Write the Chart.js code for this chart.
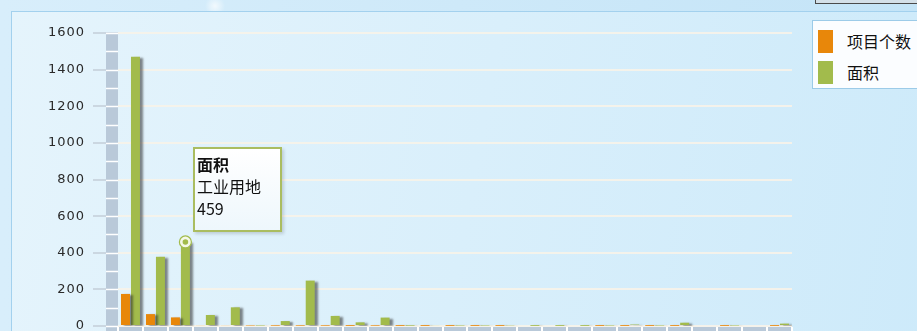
<!DOCTYPE html>
<html>
<head>
<meta charset="utf-8">
<script src="https://cdn.jsdelivr.net/npm/chart.js@4"></script>
<style>
  html, body { margin: 0; padding: 0; }
  body {
    width: 917px; height: 331px; overflow: hidden; position: relative;
    background:
      radial-gradient(circle at 215px 6px, rgba(255,255,255,0.7) 0, rgba(255,255,255,0) 10px),
      radial-gradient(circle at 226px 63px, rgba(255,255,255,0.5) 0, rgba(255,255,255,0) 6px),
      linear-gradient(to right, #d8eefb, #c4e4f7);
    font-family: "Noto Sans CJK SC", sans-serif;
  }
  .frame {
    position: absolute; left: 11px; top: 11px; width: 920px; height: 340px;
    border: 1px solid #a3d1ee;
    background: linear-gradient(100deg, #e5f4fc 0%, #d9effb 50%, #cdeafa 100%);
  }
  .topbox {
    position: absolute; left: 815px; top: -20px; width: 120px; height: 22px;
    border: 1px solid #4a4a4a; background: #d4e0e8;
  }
  #wrap { position: absolute; left: 0; top: 0; width: 917px; height: 331px; }
  .legend {
    position: absolute; left: 812px; top: 20px; width: 130px; height: 67px;
    background: #fbfdff; border: 1px solid #9ccbe8;
  }
  .legend .item { position: absolute; left: 5px; height: 23px; }
  .legend .sw { position: absolute; left: 0; top: 0; width: 15px; height: 23px; }
  .legend .tx { position: absolute; left: 29px; top: -1px; font-size: 16px; line-height: 24px; color: #111; white-space: nowrap; }
  .tip {
    position: absolute; width: 85px; height: 81px; padding: 0;
    border: 2px solid #aabd60;
    background: linear-gradient(to bottom, #ffffff, #eef7fc);
    box-shadow: 2px 2px 3px rgba(0,0,0,0.15);
    font-size: 16px; line-height: 22px; color: #111; display: none;
  }
  .tip .in { position: absolute; left: 2px; top: 4px; white-space: nowrap; }
  .tip b { font-weight: bold; }
</style>
</head>
<body>
<div class="frame"></div>
<div class="topbox"></div>
<div id="wrap"><canvas id="myChart" width="917" height="331"></canvas></div>
<div class="legend" id="legend"></div>
<div class="tip" id="tip"></div>
<script>
const categories = [
  "住宅用地", "商业用地", "工业用地", "仓储用地", "公共设施用地", "教育用地", "医疗卫生用地",
  "交通用地", "市政用地", "绿地", "水域", "农用地", "文化用地", "体育用地",
  "科研用地", "物流用地", "旅游用地", "特殊用地", "宗教用地", "军事用地", "广场用地",
  "道路用地", "港口用地", "机场用地", "铁路用地", "储备用地", "其他用地"
];
const projectCounts = [175, 65, 47, 5, 5, 3, 2, 2, 2, 1, 2, 1, 1, 1, 1, 1, 0, 0, 0, 1, 1, 1, 1, 0, 1, 0, 1];
const areas = [1470, 378, 459, 60, 102, 3, 27, 248, 55, 20, 46, 2, 5, 3, 3, 4, 1, 1, 1, 3, 8, 3, 18, 0, 3, 0, 13];
const yTicks = [0, 200, 400, 600, 800, 1000, 1200, 1400, 1600];

const seriesNames = ["项目个数", "面积"];
const seriesColors = ["#e8870a", "#a2bb4c"];
const STRIP = "#b9c9d9";

// wider spacing for the axis numbers
const spacingPlugin = {
  id: "spacing",
  beforeDraw(chart) {
    chart.ctx.letterSpacing = "1px";
  }
};

// gray rails along the left and bottom edges of the plot, split by white lines
const railsPlugin = {
  id: "rails",
  afterDraw(chart) {
    const { ctx, chartArea, scales } = chart;
    const y = scales.y, x = scales.x;
    ctx.save();
    ctx.fillStyle = STRIP;
    ctx.fillRect(chartArea.left - 12, chartArea.top, 12, chartArea.bottom - chartArea.top + 10);
    ctx.fillRect(chartArea.left, chartArea.bottom + 1, chartArea.right - chartArea.left, 10);
    ctx.strokeStyle = "#ffffff";
    ctx.lineWidth = 1.5;
    for (let v = 0; v <= 1600; v += 100) {
      const py = Math.round(y.getPixelForValue(v)) + 0.5;
      ctx.beginPath();
      ctx.moveTo(chartArea.left - 12, py);
      ctx.lineTo(chartArea.left, py);
      ctx.stroke();
    }
    const w = (chartArea.right - chartArea.left) / categories.length;
    ctx.lineWidth = 2;
    for (let i = 0; i <= categories.length; i++) {
      const px = Math.round(x.getPixelForValue(i) - w / 2);
      ctx.beginPath();
      ctx.moveTo(px, chartArea.bottom + 1);
      ctx.lineTo(px, chartArea.bottom + 10);
      ctx.stroke();
    }
    ctx.restore();
  }
};

// soft drop shadow to the right of each bar
const shadowPlugin = {
  id: "barShadow",
  beforeDatasetDraw(chart) {
    const ctx = chart.ctx;
    ctx.save();
    ctx.shadowColor = "rgba(40,40,40,0.55)";
    ctx.shadowOffsetX = 3;
    ctx.shadowOffsetY = 1;
    ctx.shadowBlur = 2;
  },
  afterDatasetDraw(chart) {
    chart.ctx.restore();
  }
};

// ring marker on the bar picked by the tooltip
const markerPlugin = {
  id: "marker",
  afterDatasetsDraw(chart) {
    const act = chart.tooltip.getActiveElements();
    if (!act.length) return;
    const el = act[0].element;
    const ctx = chart.ctx;
    ctx.save();
    ctx.beginPath();
    ctx.arc(el.x, el.y, 6, 0, Math.PI * 2);
    ctx.fillStyle = "#f4f8e8";
    ctx.fill();
    ctx.lineWidth = 1.2;
    ctx.strokeStyle = seriesColors[1];
    ctx.stroke();
    ctx.beginPath();
    ctx.arc(el.x, el.y, 2.8, 0, Math.PI * 2);
    ctx.fillStyle = seriesColors[1];
    ctx.fill();
    ctx.restore();
  }
};

const tipEl = document.getElementById("tip");

const externalTooltip = ({ chart, tooltip }) => {
  if (!tooltip.dataPoints || !tooltip.dataPoints.length) {
    tipEl.style.display = "none";
    return;
  }
  const dp = tooltip.dataPoints[0];
  const el = dp.element;
  tipEl.innerHTML = '<div class="in"><b>' + dp.dataset.label + "</b><br>" +
    dp.label + "<br>" + dp.raw + "</div>";
  tipEl.style.left = Math.round(el.x + 8) + "px";
  tipEl.style.top = Math.round(el.y - 95) + "px";
  tipEl.style.display = "block";
};

const ctx = document.getElementById("myChart").getContext("2d");
const myChart = new Chart(ctx, {
  type: "bar",
  data: {
    labels: categories,
    datasets: [
      { label: seriesNames[0], data: projectCounts, backgroundColor: seriesColors[0] },
      { label: seriesNames[1], data: areas, backgroundColor: seriesColors[1] }
    ]
  },
  options: {
    responsive: false,
    animation: false,
    events: [],
    layout: { padding: { left: 0, right: 125, top: 33, bottom: 5 } },
    datasets: { bar: { categoryPercentage: 0.8, barPercentage: 0.9 } },
    scales: {
      x: {
        display: false
      },
      y: {
        min: 0,
        max: 1600,
        afterBuildTicks: (scale) => { scale.ticks = yTicks.map(v => ({ value: v })); },
        afterFit: (scale) => {
          scale.width = 118;
          scale.paddingTop = 0;
          scale.paddingBottom = 0;
        },
        border: { display: false },
        grid: {
          color: "rgba(246,242,234,0.95)",
          lineWidth: 2,
          tickLength: 25,
          tickColor: "#c3ced8",
          tickWidth: 1.5
        },
        ticks: {
          padding: 8,
          color: "#2a2a2a",
          font: { family: "DejaVu Sans", size: 13 },
          callback: (v) => String(v)
        }
      }
    },
    plugins: {
      legend: { display: false },
      tooltip: {
        enabled: false,
        external: externalTooltip
      }
    }
  },
  plugins: [spacingPlugin, railsPlugin, shadowPlugin, markerPlugin]
});

// html legend built from the datasets
const legendEl = document.getElementById("legend");
myChart.data.datasets.forEach((ds, i) => {
  const item = document.createElement("div");
  item.className = "item";
  item.style.top = (9 + i * 31) + "px";
  item.innerHTML = '<div class="sw" style="background:' + ds.backgroundColor + '"></div>' +
    '<div class="tx">' + ds.label + "</div>";
  legendEl.appendChild(item);
});

// show the 工业用地 area bar as the picked point
const picked = myChart.getDatasetMeta(1).data[2];
myChart.tooltip.setActiveElements([{ datasetIndex: 1, index: 2 }], { x: picked.x, y: picked.y });
myChart.draw();
</script>
</body>
</html>
